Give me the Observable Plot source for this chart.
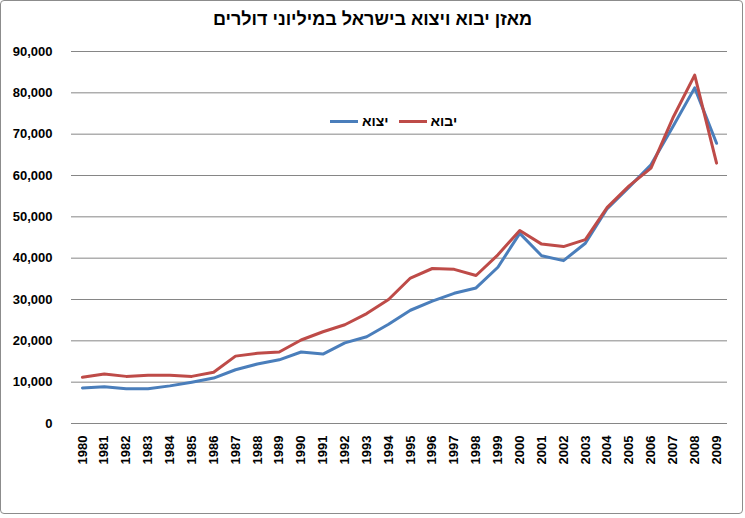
<!DOCTYPE html>
<html><head><meta charset="utf-8">
<script src="https://cdn.jsdelivr.net/npm/d3@7"></script>
<script src="https://cdn.jsdelivr.net/npm/@observablehq/plot@0.6"></script>
<style>
body{margin:0;background:#fff;font-family:"Liberation Sans",Arial,sans-serif;}
#wrap{position:relative;width:745px;height:518px;}
#border{position:absolute;left:0;top:0;width:741px;height:512px;border:1px solid #8c8c8c;border-radius:4px;}
#title{position:absolute;left:0;width:745px;top:9px;text-align:center;font-weight:bold;font-size:18px;direction:rtl;}
#legend{position:absolute;top:113px;left:330px;font-weight:bold;font-size:14px;display:flex;align-items:center;gap:10px;}
.li{display:flex;align-items:center;gap:4px;}
.sw{width:28px;height:3px;display:inline-block;}
svg{position:absolute;left:0;top:0;}
</style></head>
<body><div id="wrap"><div id="border"></div></div>
<script>
const years = [1980,1981,1982,1983,1984,1985,1986,1987,1988,1989,1990,1991,1992,1993,1994,1995,1996,1997,1998,1999,2000,2001,2002,2003,2004,2005,2006,2007,2008,2009];
const exportsV = [8600,8900,8400,8400,9100,10000,11000,13000,14400,15400,17300,16800,19500,21000,24000,27400,29600,31500,32800,37800,46000,40600,39400,43600,52000,57200,62600,71800,81200,67800];
const importsV = [11200,12000,11400,11700,11700,11400,12400,16300,17000,17300,20200,22200,23900,26600,30000,35200,37500,37300,35800,40800,46700,43400,42800,44500,52300,57500,61800,73900,84300,63000];
const yTicks = [0,10000,20000,30000,40000,50000,60000,70000,80000,90000];
const seriesNames = ["יצוא","יבוא"];
const seriesColors = ["#4a7ebb","#be4b48"];
const titleText = "מאזן יבוא ויצוא בישראל במיליוני דולרים";

const data = [];
years.forEach((y,i)=>{
  data.push({year:y, value:exportsV[i], s:seriesNames[0]});
  data.push({year:y, value:importsV[i], s:seriesNames[1]});
});

const chart = Plot.plot({
  width:745, height:518,
  marginLeft:71, marginRight:18, marginTop:51, marginBottom:95,
  style:{fontFamily:"'Liberation Sans', Arial, sans-serif", color:"#000", background:"transparent"},
  x:{type:"point", domain:years, padding:0.5, round:false, label:null},
  y:{domain:[0,90000], label:null},
  color:{domain:seriesNames, range:seriesColors},
  marks:[
    Plot.ruleY(yTicks, {stroke:"#868686", strokeWidth:1}),
    Plot.line(data, {x:"year", y:"value", z:"s", stroke:"s", strokeWidth:3, strokeLinejoin:"round"}),
    Plot.axisY(yTicks, {tickSize:0, tickPadding:19, tickFormat:d3.format(","), fontWeight:"bold", fontSize:13, label:null}),
    Plot.axisX({tickRotate:-90, tickSize:0, tickPadding:12, fontWeight:"bold", fontSize:13, tickFormat:d=>String(d), label:null})
  ]
});
const wrap = document.getElementById("wrap");
wrap.appendChild(chart);
const t = document.createElement("div"); t.id="title"; t.textContent=titleText; wrap.appendChild(t);
const lg = document.createElement("div"); lg.id="legend";
seriesNames.forEach((n,i)=>{
  const it=document.createElement("span"); it.className="li";
  const sw=document.createElement("span"); sw.className="sw"; sw.style.background=seriesColors[i];
  const tx=document.createElement("span"); tx.textContent=n; tx.style.direction="rtl";
  it.appendChild(sw); it.appendChild(tx); lg.appendChild(it);
});
wrap.appendChild(lg);
</script></body></html>
